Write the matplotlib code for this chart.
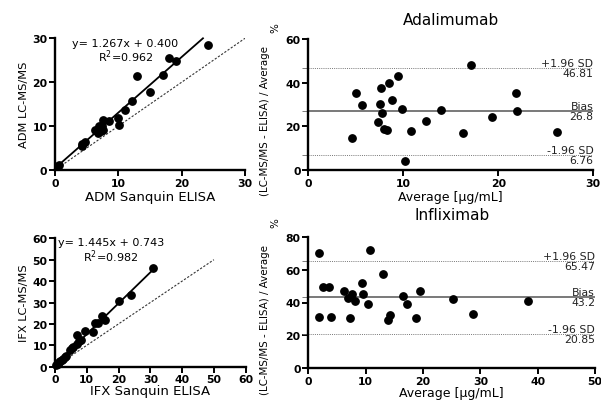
import matplotlib
matplotlib.use("Agg")
import matplotlib.pyplot as plt
import numpy as np

plt.rcParams['font.family'] = ['DejaVu Sans']

# ---------------- data ----------------
adm_elisa = [0.4, 0.6, 4.2, 4.3, 4.7, 6.3, 6.8, 6.9, 7.2, 7.4, 7.5, 7.6, 8.6, 9.9, 10.1,
             11.1, 12.1, 13.0, 15.0, 17.1, 18.0, 19.1, 24.2]
adm_lcms = [0.9, 1.1, 5.4, 6.0, 6.3, 9.1, 8.4, 10.1, 8.9, 10.1, 11.5, 9.2, 11.1, 11.8, 10.3,
            13.7, 15.8, 21.3, 17.8, 21.6, 25.6, 24.8, 28.5]
adm_slope, adm_icpt, adm_r2 = 1.267, 0.400, 0.962

ifx_elisa = [0.3, 0.8, 1.2, 1.6, 2.1, 2.6, 3.2, 3.6, 4.8, 5.3, 5.8, 6.8, 7.0, 7.6, 8.3,
             9.3, 12.0, 12.6, 13.6, 14.7, 15.8, 20.0, 23.8, 30.8]
ifx_lcms = [0.6, 1.3, 2.0, 2.6, 3.3, 3.8, 4.4, 5.0, 7.9, 8.6, 9.3, 10.6, 14.6, 12.1, 12.6,
            16.6, 16.1, 20.2, 20.6, 23.9, 21.6, 30.5, 33.5, 46.2]
ifx_slope, ifx_icpt, ifx_r2 = 1.445, 0.743, 0.982

adm_avg = [4.57, 5.02, 5.62, 7.65, 7.58, 7.76, 7.37, 8.0, 8.32, 8.53, 8.78, 9.41, 9.86,
           10.18, 10.84, 12.39, 13.94, 16.32, 17.16, 19.34, 21.86, 22.0, 26.2]
adm_diff = [14.7, 35.1, 29.9, 37.4, 30.2, 26.0, 22.0, 18.9, 18.2, 39.8, 32.1, 42.9, 27.8,
            4.1, 17.7, 22.4, 27.5, 16.8, 48.2, 24.1, 35.3, 27.0, 17.4]
adm_bias, adm_upper, adm_lower = 26.8, 46.81, 6.76

ifx_avg = [1.92, 10.8, 13.03, 9.42, 2.56, 3.55, 6.28, 7.62, 9.48, 6.98, 8.15, 10.47, 16.57,
           17.27, 19.54, 25.2, 28.7, 38.4, 1.92, 3.96, 7.27, 14.25, 13.95, 18.8]
ifx_diff = [70.2, 71.7, 57.1, 52.0, 49.4, 49.4, 47.0, 45.3, 45.1, 42.9, 40.9, 39.1, 44.1,
            39.1, 47.0, 42.1, 33.2, 40.7, 31.3, 31.0, 30.6, 32.4, 29.5, 30.6]
ifx_bias, ifx_upper, ifx_lower = 43.2, 65.47, 20.85

W, H = 601, 402
fig = plt.figure(figsize=(W / 100, H / 100), dpi=100)


def ax_px(l, r, t, b):
    return fig.add_axes([l / W, 1 - b / H, (r - l) / W, (b - t) / H])


def set_ticks(ax, xt, yt):
    ax.set_xticks(xt, labels=[f"{v:g}" for v in xt], fontweight='bold', fontsize=7.8)
    ax.set_yticks(yt, labels=[f"{v:g}" for v in yt], fontweight='bold', fontsize=7.8)


def style(ax):
    for s in ['top', 'right']:
        ax.spines[s].set_visible(False)
    for s in ['left', 'bottom']:
        ax.spines[s].set_linewidth(1.7)
        ax.spines[s].set_color('black')
    ax.tick_params(which='major', direction='out', length=4, width=1.4, pad=1.5)


def scatter_panel(ax, x, y, slope, icpt, r2, lim, step, xlab, ylab, xend, eqx, eqy, r2y, xpad):
    ax.set_xlim(0, lim)
    ax.set_ylim(0, lim)
    set_ticks(ax, np.arange(0, lim + 1, step), np.arange(0, lim + 1, step))
    ident = np.array([0, xend])
    ax.plot(ident, ident, linestyle=(0, (2, 1.5)), color='#333333', lw=0.8)
    xx = np.array([0, max(x)])
    if slope * max(x) + icpt > lim:
        xx = np.array([0, (lim - icpt) / slope])
    ax.plot(xx, slope * xx + icpt, color='black', lw=1.3, clip_on=False)
    ax.plot(x, y, 'o', color='black', ms=5.3, clip_on=False, zorder=5)
    ax.set_xlabel(xlab, fontsize=9.5, labelpad=xpad)
    ax.set_ylabel(ylab, fontsize=8.2, labelpad=2)
    ax.text(eqx, eqy, f"y= {slope:.3f}x + {icpt:.3f}", ha='center', va='center', fontsize=8)
    ax.text(eqx, r2y, f"R$^2$={r2:.3f}", ha='center', va='center', fontsize=8)
    style(ax)


def ba_panel(ax, x, d, bias, up, lo, xlim, xstep, ylim, ystep, title, lab_y, tpad, xpad):
    ax.set_xlim(0, xlim)
    ax.set_ylim(0, ylim)
    set_ticks(ax, np.arange(0, xlim + 1, xstep), np.arange(0, ylim + 1, ystep))
    ax.set_yticks([up, bias, lo], minor=True)
    ax.tick_params(which='minor', length=4, width=0.6, color='#666666')
    ax.axhline(bias, color='#555555', lw=1.1)
    for v in (up, lo):
        ax.axhline(v, color='#777777', lw=0.7, linestyle=(0, (1, 1.2)))
    ax.plot(x, d, 'o', color='black', ms=5.3, clip_on=False, zorder=5)
    tlabels = [('+1.96 SD', up), ('Bias', bias), ('-1.96 SD', lo)]
    for name, v in tlabels:
        ax.text(xlim, v, name, ha='right', va='bottom', fontsize=7.8, color='#222222')
        ax.text(xlim, v, f"{v:g}", ha='right', va='top', fontsize=7.8, color='#222222')
    ax.set_title(title, fontsize=11, pad=tpad)
    ax.set_xlabel('Average [µg/mL]', fontsize=9, labelpad=xpad)
    ax.set_ylabel('(LC-MS/MS - ELISA) / Average', fontsize=7.4)
    ax.yaxis.set_label_coords(-0.134, lab_y)
    style(ax)


ax1 = ax_px(55, 245, 39.3, 171)
scatter_panel(ax1, adm_elisa, adm_lcms, adm_slope, adm_icpt, adm_r2, 30, 10,
              'ADM Sanquin ELISA', 'ADM LC-MS/MS', 30, 11.1, 28.9, 26.0, 2)

ax2 = ax_px(55, 245.7, 239.3, 367.7)
scatter_panel(ax2, ifx_elisa, ifx_lcms, ifx_slope, ifx_icpt, ifx_r2, 60, 10,
              'IFX Sanquin ELISA', 'IFX LC-MS/MS', 50, 17.6, 58.2, 51.9, 0)

ax3 = ax_px(308.3, 593.3, 40, 171)
ba_panel(ax3, adm_avg, adm_diff, adm_bias, adm_upper, adm_lower, 30, 10, 60, 20,
         'Adalimumab', 0.385, 11, 2)

ax4 = ax_px(308.3, 595, 237.7, 369.3)
ba_panel(ax4, ifx_avg, ifx_diff, ifx_bias, ifx_upper, ifx_lower, 50, 10, 80, 20,
         'Infliximab', 0.375, 13, 0)

# '%' sign placed above each rotated y label
fig.text(275 / W, 1 - 28 / H, '%', rotation=90, fontsize=7.4, ha='center', va='center')
fig.text(275 / W, 1 - 223 / H, '%', rotation=90, fontsize=7.4, ha='center', va='center')

fig.savefig('out.png', dpi=100)
